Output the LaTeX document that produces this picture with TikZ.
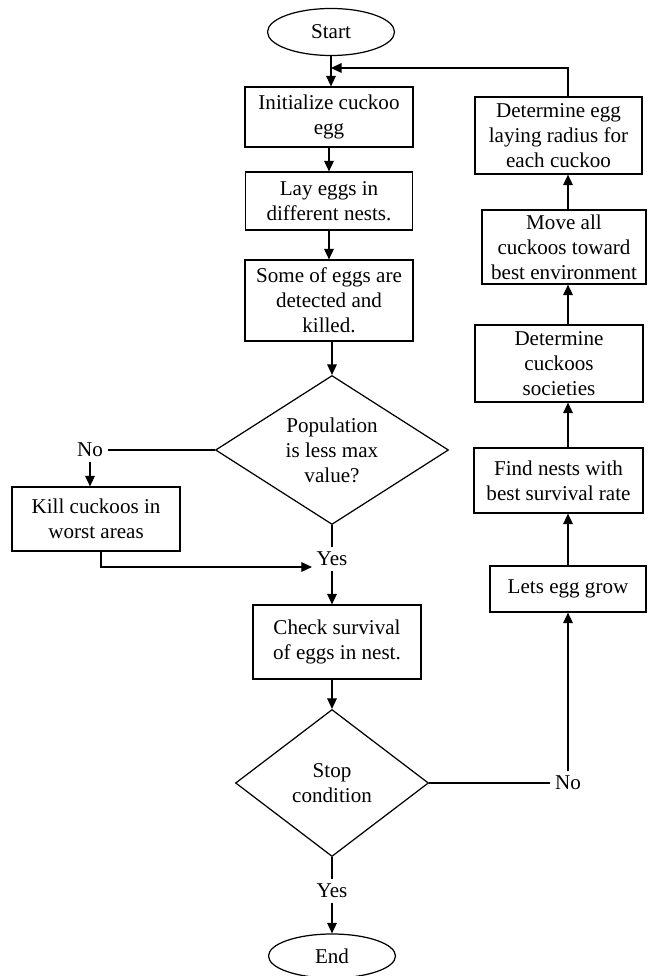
\documentclass[tikz,border=0pt]{standalone}
\usepackage{fontspec}
\setmainfont{Liberation Serif}
\usetikzlibrary{
    arrows.meta,
    positioning,
    shapes.geometric,
    calc
}
\tikzset{
    % Lines
    flow line/.style={line width=0.7pt},
    arrow tip/.tip={Triangle[length=6pt,width=5.5pt]},
    arr/.style={flow line,-{arrow tip}},
    %
    % Shapes
    box/.style={draw,flow line,rectangle,align=center,inner sep=0pt,minimum width=#1},
    box/.default=168,
    decision/.style={draw,flow line,diamond,align=center,inner sep=0pt,shape aspect=1.56},
    terminal/.style={draw,flow line,ellipse,inner sep=0pt,minimum width=127*0.02cm},
    label text/.style={inner sep=2.5pt},
}
\tikzstyle{every node}=[font=\fontsize{12}{14.2}\selectfont]

\begin{document}
\begin{tikzpicture}[x=0.02cm,y=-0.02cm]
        \useasboundingbox (0,0) rectangle (647,976);
        % main column
        \node[terminal,minimum height=47*0.02cm] (start) at (331,32) {Start};
        \node[box,minimum width=168*0.02cm,minimum height=60*0.02cm] (init) at (329,117) {Initialize cuckoo\\egg};
        \node[box,minimum width=167*0.02cm,minimum height=58*0.02cm] (lay) at (329,201) {Lay eggs in\\different nests.};
        \node[box,minimum width=168*0.02cm,minimum height=81*0.02cm] (detect) at (329,300.5) {Some of eggs are\\detected and\\killed.};
        \node[decision,minimum width=233*0.02cm,minimum height=149*0.02cm] (pop) at (332,450) {Population\\is less max\\value?};
        \node[label text] (no1) at (90,450) {No};
        \node[box,minimum width=168*0.02cm,minimum height=64*0.02cm] (kill) at (96,519) {Kill cuckoos in\\worst areas};
        \node[label text] (yes1) at (332,559) {Yes};
        \node[box,minimum width=168*0.02cm,minimum height=74*0.02cm] (check) at (337,642) {Check survival\\of eggs in nest.};
        \node[decision,minimum width=193*0.02cm,minimum height=147*0.02cm] (stop) at (332,783) {Stop\\condition};
        \node[label text] (yes2) at (332,891) {Yes};
        \node[terminal,minimum height=44*0.02cm] (end) at (332,956) {End};
        % right column
        \node[label text] (no2) at (568,783) {No};
        \node[box,minimum width=156*0.02cm,minimum height=46*0.02cm] (grow) at (568,589) {Lets egg grow};
        \node[box,minimum width=169*0.02cm,minimum height=65*0.02cm] (find) at (558.5,480.5) {Find nests with\\best survival rate};
        \node[box,minimum width=168*0.02cm,minimum height=77*0.02cm] (soc) at (559,363.5) {Determine\\cuckoos\\societies};
        \node[box,minimum width=164*0.02cm,minimum height=74*0.02cm] (move) at (564,247) {Move all\\cuckoos toward\\best environment};
        \node[box,minimum width=167*0.02cm,minimum height=77*0.02cm] (radius) at (558.5,135.5) {Determine egg\\laying radius for\\each cuckoo};
        \coordinate (loopin) at (331,68);
        \coordinate (killout) at ($(kill.south)+(5,0)$);

        % connectors, main column
        \draw[arr] (start) -- (start |- init.north);
        \draw[arr] (init.south -| lay) -- (lay);
        \draw[arr] (lay) -- (detect);
        \draw[arr] (detect.south -| pop) -- (pop.north);
        \draw[flow line] (pop.west) -- (no1);
        \draw[arr] (no1) -- (no1 |- kill.north);
        \draw[arr] (killout) |- ($(yes1.west)+(0,8)$);
        \draw[flow line] (pop.south) -- (yes1);
        \draw[arr] (yes1) -- (yes1 |- check.north);
        \draw[arr] (check.south -| stop) -- (stop.north);
        \draw[flow line] (stop.south) -- (yes2);
        \draw[arr] (yes2) -- (end);
        % connectors, right column
        \draw[flow line] (stop.east) -- (no2);
        \draw[arr] (no2) -- (no2 |- grow.south);
        \draw[arr] (no2 |- grow.north) -- (no2 |- find.south);
        \draw[arr] (no2 |- find.north) -- (no2 |- soc.south);
        \draw[arr] (no2 |- soc.north) -- (no2 |- move.south);
        \draw[arr] (no2 |- move.north) -- (no2 |- radius.south);
        \draw[arr] (no2 |- radius.north) |- (loopin);
    \end{tikzpicture}
\end{document}
